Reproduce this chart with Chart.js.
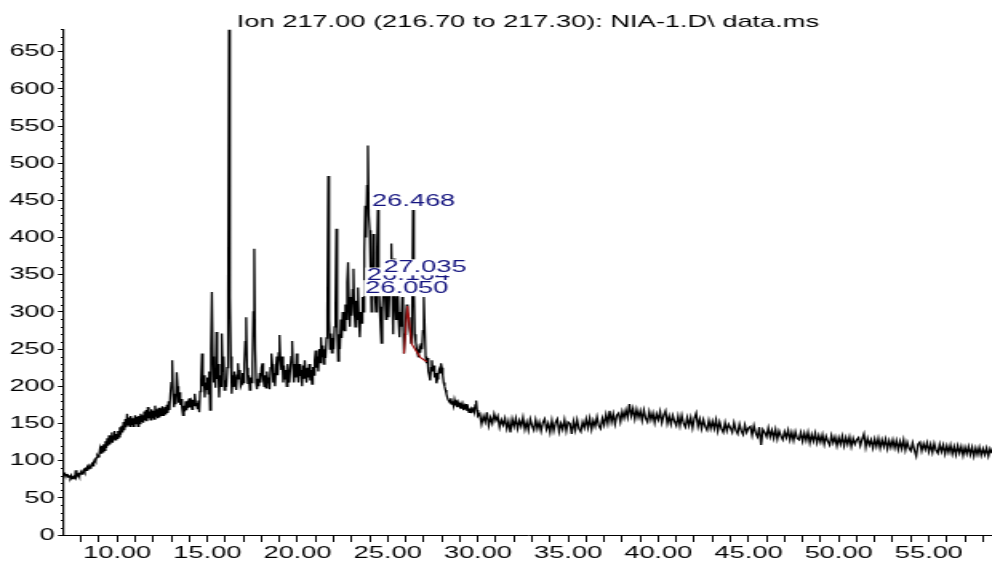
<!DOCTYPE html>
<html>
<head>
<meta charset="utf-8">
<title>Ion 217.00 chromatogram</title>
<script src="https://cdn.jsdelivr.net/npm/chart.js@4.4.0/dist/chart.umd.min.js"></script>
<style>
  html, body { margin: 0; padding: 0; background: #fff; }
  /* the original picture is stretched sideways, so the canvas is too */
  #chart { display: block; width: 992px; height: 562px; }
</style>
</head>
<body>
<canvas id="chart" width="620" height="562" style="width:992px;height:562px"></canvas>
<script>
// Retention time grid, dense part (7.05 .. 30.00 min, every 0.05 min)
const peakStart = 7.05;
const peakStep = 0.05;
// Abundance, one row per minute
const peakCounts = [
  84, 81, 80, 82, 78, 80, 79, 77, 80, 76, 78, 79, 77, 87, 78, 80, 82, 79, 83,
  84, 82, 86, 88, 85, 89, 87, 91, 89, 92, 90, 94, 96, 93, 98, 101, 99, 104, 107, 105,
  108, 116, 110, 120, 112, 122, 114, 126, 117, 130, 120, 134, 122, 128, 138, 124, 133, 140, 128, 136,
  130, 140, 132, 145, 135, 147, 138, 152, 141, 156, 145, 163, 148, 158, 146, 160, 149, 157, 146, 155,
  161, 150, 159, 146, 160, 150, 163, 152, 161, 151, 166, 154, 168, 153, 172, 157, 166, 155, 169, 158,
  167, 156, 174, 159, 169, 157, 171, 158, 170, 160, 173, 161, 165, 172, 162, 175, 164, 180, 168, 190,
  205, 235, 190, 172, 185, 176, 219, 200, 178, 192, 175, 183, 170, 161, 174, 166, 180, 168, 176, 171,
  184, 172, 178, 169, 182, 174, 190, 178, 176, 170, 181, 165, 193, 210, 244, 200, 215, 185, 205, 196,
  212, 190, 220, 168, 250, 327, 240, 205, 225, 198, 273, 210, 230, 185, 215, 200, 271, 220, 240, 195,
  208, 199, 225, 330, 680, 320, 240, 190, 215, 199, 220, 205, 195, 215, 231, 210, 222, 200, 203, 218,
  205, 230, 260, 293, 225, 203, 215, 195, 212, 205, 230, 300, 385, 250, 205, 196, 210, 200, 218, 205,
  225, 231, 210, 200, 215, 198, 220, 205, 212, 196, 225, 244, 230, 205, 218, 200, 225, 240, 215, 245,
  269, 235, 222, 240, 205, 228, 210, 222, 200, 230, 212, 205, 225, 240, 261, 225, 205, 230, 212, 244,
  220, 205, 230, 214, 222, 200, 228, 210, 235, 215, 205, 225, 212, 230, 208, 222, 203, 226, 215, 235,
  248, 225, 240, 220, 250, 232, 266, 240, 255, 230, 250, 238, 265, 300, 483, 290, 250, 271, 245, 265,
  250, 280, 310, 412, 280, 234, 270, 250, 290, 265, 300, 280, 275, 310, 290, 340, 367, 310, 280, 320,
  295, 330, 358, 300, 280, 315, 290, 333, 290, 266, 300, 285, 320, 300, 380, 443, 400, 470, 524, 430,
  410, 350, 300, 340, 405, 360, 320, 300, 380, 437, 350, 307, 280, 258, 300, 330, 356, 320, 290, 340,
  310, 293, 330, 350, 392, 330, 270, 372, 320, 290, 302, 340, 290, 266, 300, 280, 320, 290, 244, 270,
  290, 310, 300, 293, 280, 270, 258, 300, 437, 330, 270, 260, 250, 245, 239, 250, 245, 258, 250, 275,
  320, 280, 240, 231, 238, 220, 215, 208, 225, 235, 220, 228, 212, 218, 204, 210, 215, 222, 218, 231,
  225, 215, 205, 200, 195, 190, 185, 182, 180, 178, 184, 176, 180, 174, 182, 177, 179, 172, 178, 174,
  172, 176, 170, 175, 168, 173, 169, 176, 167, 171, 165, 168, 170, 164, 168, 172, 166, 175, 181, 168,
  160
];

// Flat tail (30.1 .. 58.5 min, every 0.1 min)
const tailStart = 30.1;
const tailStep = 0.1;
const tailCounts = [
  163, 149, 160, 152, 165, 147, 158, 150, 163, 154,
  160, 145, 155, 148, 157, 143, 153, 138, 156, 146,
  157, 143, 154, 146, 158, 142, 152, 141, 156, 147,
  141, 155, 143, 152, 140, 151, 156, 142, 150, 138,
  154, 140, 151, 156, 139, 150, 142, 155, 140, 152,
  150, 136, 153, 141, 155, 143, 139, 152, 144, 156,
  144, 157, 142, 154, 146, 159, 147, 143, 157, 148,
  162, 150, 167, 152, 163, 149, 161, 164, 152, 166,
  157, 168, 158, 176, 160, 170, 156, 169, 158, 167,
  154, 168, 157, 152, 166, 155, 164, 151, 163, 155,
  166, 151, 161, 167, 150, 160, 149, 161, 153, 147,
  160, 147, 161, 150, 145, 158, 147, 158, 144, 157,
  164, 146, 156, 143, 155, 146, 141, 154, 143, 153,
  143, 155, 140, 152, 143, 138, 151, 140, 149, 144,
  138, 151, 141, 136, 149, 140, 135, 148, 138, 144,
  146, 134, 147, 137, 132, 145, 121, 142, 138, 132,
  144, 132, 141, 130, 142, 129, 140, 133, 128, 139,
  131, 141, 128, 138, 127, 139, 130, 128, 138, 126,
  137, 127, 138, 124, 135, 126, 137, 124, 134, 125,
  135, 122, 133, 126, 121, 134, 124, 132, 120, 131,
  122, 133, 120, 131, 122, 132, 119, 130, 122, 128,
  131, 120, 129, 136, 118, 130, 121, 128, 117, 129,
  119, 130, 117, 128, 119, 129, 116, 127, 118, 128,
  117, 127, 115, 126, 116, 128, 114, 125, 117, 113,
  124, 114, 106, 122, 125, 113, 123, 115, 124, 112,
  122, 111, 123, 114, 110, 122, 112, 121, 109, 120,
  111, 121, 109, 119, 108, 120, 110, 119, 107, 118,
  109, 119, 108, 118, 106, 117, 108, 118, 107, 116,
  108, 117, 106, 116, 110
];

// Integration baseline (red) under the labelled peaks
const baselineTimes = [25.90, 26.09, 26.33, 26.80, 27.17];
const baselineCounts = [244, 308, 257, 239, 233];

// Peak labels and where they sit (time, abundance of the label's left middle)
const peakLabels = ['26.164', '26.468', '27.035', '26.050'];
const labelTimes = [23.84, 24.13, 24.76, 23.75];
const labelLevels = [349, 449, 360, 332];

const titleText = 'Ion 217.00 (216.70 to 217.30): NIA-1.D\\ data.ms';

// Build the point list for the trace
const trace = [];
peakCounts.forEach((v, i) => trace.push({ x: +(peakStart + i * peakStep).toFixed(2), y: v }));
tailCounts.forEach((v, i) => trace.push({ x: +(tailStart + i * tailStep).toFixed(2), y: v }));

const baseline = baselineTimes.map((t, i) => ({ x: t, y: baselineCounts[i] }));

Chart.defaults.font.family = "'Liberation Sans', Arial, sans-serif";
Chart.defaults.color = '#000';

// Small ticks every 10 counts on the y axis
const minorTicks = {
  id: 'minorTicks',
  afterDraw(chart) {
    const { ctx, scales: { y } } = chart;
    ctx.save();
    ctx.strokeStyle = '#000';
    ctx.lineWidth = 1;
    for (let v = 10; v <= y.max; v += 10) {
      if (v % 50 === 0) continue;
      const py = Math.round(y.getPixelForValue(v)) + 0.5;
      ctx.beginPath();
      ctx.moveTo(y.right - 2, py);
      ctx.lineTo(y.right, py);
      ctx.stroke();
    }
    ctx.restore();
  }
};

// Blue retention time labels with a white box behind them
const peakTags = {
  id: 'peakTags',
  afterDatasetsDraw(chart) {
    const { ctx, scales: { x, y } } = chart;
    ctx.save();
    ctx.font = "17px 'Liberation Sans', Arial, sans-serif";
    ctx.textBaseline = 'middle';
    ctx.textAlign = 'left';
    peakLabels.forEach((txt, i) => {
      const px = x.getPixelForValue(labelTimes[i]);
      const py = y.getPixelForValue(labelLevels[i]);
      const w = ctx.measureText(txt).width;
      ctx.fillStyle = '#fff';
      ctx.fillRect(px - 1, py - 8, w + 2, 16);
      ctx.fillStyle = '#14147f';
      ctx.fillText(txt, px, py);
    });
    ctx.restore();
  }
};

new Chart(document.getElementById('chart'), {
  type: 'line',
  data: {
    datasets: [
      {
        data: baseline,
        borderColor: '#a01010',
        borderWidth: 1.2,
        pointRadius: 0,
        tension: 0,
        order: 0
      },
      {
        data: trace,
        borderColor: '#000',
        borderWidth: 1.3,
        pointRadius: 0,
        tension: 0,
        order: 1
      }
    ]
  },
  options: {
    responsive: false,
    animation: false,
    normalized: true,
    layout: { padding: 0 },
    plugins: {
      legend: { display: false },
      tooltip: { enabled: false },
      title: {
        display: true,
        text: titleText,
        fullSize: false,
        color: '#000',
        font: { size: 17, weight: 'normal', lineHeight: 0.85 },
        padding: { top: 15, bottom: 0 }
      }
    },
    scales: {
      x: {
        type: 'linear',
        min: 7.05,
        max: 58.5,
        afterFit: (scale) => { scale.height = 27; },
        border: { display: true, color: '#000', width: 1 },
        grid: { drawOnChartArea: false, drawTicks: true, tickLength: 7, tickColor: '#000', tickWidth: 1 },
        ticks: {
          stepSize: 1,
          includeBounds: false,
          autoSkip: false,
          maxRotation: 0,
          padding: 1,
          font: { size: 17 },
          callback: (v) => (Math.abs(v % 5) < 1e-6 ? v.toFixed(2) : '')
        }
      },
      y: {
        min: 0,
        max: 680,
        afterFit: (scale) => { scale.width = 40; },
        border: { display: true, color: '#000', width: 1.2 },
        grid: { drawOnChartArea: false, drawTicks: true, tickLength: 3.75, tickColor: '#000', tickWidth: 1 },
        ticks: {
          stepSize: 50,
          includeBounds: false,
          padding: 2,
          font: { size: 17 }
        }
      }
    }
  },
  plugins: [minorTicks, peakTags]
});
</script>
</body>
</html>
